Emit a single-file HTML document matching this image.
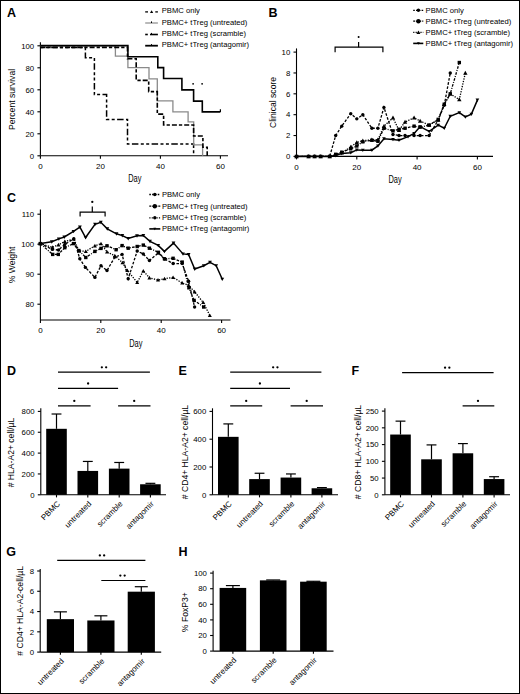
<!DOCTYPE html>
<html><head><meta charset="utf-8"><style>
html,body{margin:0;padding:0;background:#fff;}
svg{display:block;}
text{font-family:"Liberation Sans", sans-serif;fill:#000;}
</style></head><body>
<svg width="520" height="694" viewBox="0 0 520 694">
<rect x="0" y="0" width="520" height="694" fill="#fff"/>
<text x="7.00" y="16.50" font-size="12.5" text-anchor="start" font-weight="bold">A</text>
<line x1="40.40" y1="42.30" x2="40.40" y2="155.80" stroke="#000" stroke-width="1.1"/>
<line x1="37.40" y1="155.80" x2="40.40" y2="155.80" stroke="#000" stroke-width="1.1"/>
<text x="34.20" y="158.55" font-size="7.8" text-anchor="end">0</text>
<line x1="37.40" y1="133.80" x2="40.40" y2="133.80" stroke="#000" stroke-width="1.1"/>
<text x="34.20" y="136.55" font-size="7.8" text-anchor="end">20</text>
<line x1="37.40" y1="111.80" x2="40.40" y2="111.80" stroke="#000" stroke-width="1.1"/>
<text x="34.20" y="114.55" font-size="7.8" text-anchor="end">40</text>
<line x1="37.40" y1="89.80" x2="40.40" y2="89.80" stroke="#000" stroke-width="1.1"/>
<text x="34.20" y="92.55" font-size="7.8" text-anchor="end">60</text>
<line x1="37.40" y1="67.80" x2="40.40" y2="67.80" stroke="#000" stroke-width="1.1"/>
<text x="34.20" y="70.55" font-size="7.8" text-anchor="end">80</text>
<line x1="37.40" y1="45.80" x2="40.40" y2="45.80" stroke="#000" stroke-width="1.1"/>
<text x="34.20" y="48.55" font-size="7.8" text-anchor="end">100</text>
<line x1="40.40" y1="155.80" x2="228.00" y2="155.80" stroke="#000" stroke-width="1.1"/>
<line x1="40.40" y1="155.80" x2="40.40" y2="158.80" stroke="#000" stroke-width="1.1"/>
<text x="40.40" y="168.80" font-size="8.0" text-anchor="middle">0</text>
<line x1="100.40" y1="155.80" x2="100.40" y2="158.80" stroke="#000" stroke-width="1.1"/>
<text x="100.40" y="168.80" font-size="8.0" text-anchor="middle">20</text>
<line x1="160.40" y1="155.80" x2="160.40" y2="158.80" stroke="#000" stroke-width="1.1"/>
<text x="160.40" y="168.80" font-size="8.0" text-anchor="middle">40</text>
<line x1="220.40" y1="155.80" x2="220.40" y2="158.80" stroke="#000" stroke-width="1.1"/>
<text x="220.40" y="168.80" font-size="8.0" text-anchor="middle">60</text>
<text x="0.00" y="0.00" font-size="8.6" text-anchor="middle" transform="translate(15.40,99.50) rotate(-90)">Percent survival</text>
<text x="134.80" y="181.70" font-size="10.2" text-anchor="middle" textLength="13.2" lengthAdjust="spacingAndGlyphs">Day</text>
<path d="M40.40,47.40 L85.40,47.40 L85.40,57.80 L94.40,57.80 L94.40,94.60 L106.60,94.60 L106.60,119.40 L127.50,119.40 L127.50,144.00 L193.60,144.00 L193.60,155.80" fill="none" stroke="#000" stroke-width="1.5" stroke-dasharray="3,2.4,3,2.4,6.5,2.4" stroke-linejoin="miter"/>
<path d="M40.40,45.80 L115.40,45.80 L115.40,56.20 L127.90,56.20 L127.90,67.60 L149.00,67.60 L149.00,78.80 L157.30,78.80 L157.30,100.80 L172.90,100.80 L172.90,111.90 L188.10,111.90 L188.10,121.90 L193.70,121.90 L193.70,144.90 L202.60,144.90 L202.60,155.80" fill="none" stroke="#8a8a8a" stroke-width="1.3" stroke-linejoin="miter"/>
<path d="M40.40,47.40 L127.50,47.40 L127.50,58.80 L136.20,58.80 L136.20,80.40 L148.70,80.40 L148.70,91.60 L157.30,91.60 L157.30,114.10 L163.60,114.10 L163.60,125.00 L193.60,125.00 L193.60,136.00 L202.90,136.00 L202.90,147.20 L207.20,147.20 L207.20,155.80" fill="none" stroke="#000" stroke-width="1.6" stroke-dasharray="5,2,3.3,2" stroke-linejoin="miter"/>
<path d="M40.40,45.60 L127.90,45.60 L127.90,56.80 L157.80,56.80 L157.80,67.60 L163.60,67.60 L163.60,78.50 L181.90,78.50 L181.90,89.90 L193.60,89.90 L193.60,101.10 L202.30,101.10 L202.30,111.90 L220.40,111.90" fill="none" stroke="#000" stroke-width="1.6" stroke-linejoin="miter"/>
<line x1="220.40" y1="111.90" x2="220.40" y2="109.20" stroke="#000" stroke-width="1.2"/>
<circle cx="193.10" cy="83.80" r="0.9" fill="#000"/>
<circle cx="202.10" cy="83.80" r="0.9" fill="#000"/>
<text x="161.70" y="13.40" font-size="7.65" text-anchor="start">PBMC only</text>
<text x="161.70" y="24.50" font-size="7.65" text-anchor="start">PBMC+ tTreg (untreated)</text>
<text x="161.70" y="36.00" font-size="7.65" text-anchor="start">PBMC+ tTreg (scramble)</text>
<text x="161.70" y="47.20" font-size="7.65" text-anchor="start">PBMC+ tTreg (antagomir)</text>
<line x1="145.20" y1="11.90" x2="148.00" y2="11.90" stroke="#000" stroke-width="1.3"/>
<line x1="155.30" y1="11.90" x2="157.90" y2="11.90" stroke="#000" stroke-width="1.3"/>
<path d="M150.0,13.10 L151.6,10.30 L153.2,13.10 Z" fill="#000"/>
<line x1="145.20" y1="23.00" x2="157.90" y2="23.00" stroke="#8a8a8a" stroke-width="1.2"/>
<line x1="151.50" y1="21.40" x2="151.50" y2="23.00" stroke="#000" stroke-width="1.0"/>
<line x1="145.20" y1="34.50" x2="147.80" y2="34.50" stroke="#000" stroke-width="1.6"/>
<line x1="150.00" y1="34.50" x2="157.90" y2="34.50" stroke="#000" stroke-width="1.6"/>
<line x1="151.50" y1="32.90" x2="151.50" y2="34.50" stroke="#000" stroke-width="1.0"/>
<line x1="145.20" y1="45.70" x2="157.90" y2="45.70" stroke="#000" stroke-width="1.8"/>
<line x1="151.50" y1="44.10" x2="151.50" y2="45.70" stroke="#000" stroke-width="1.0"/>
<text x="268.50" y="17.00" font-size="12.5" text-anchor="start" font-weight="bold">B</text>
<line x1="296.50" y1="48.40" x2="296.50" y2="156.40" stroke="#000" stroke-width="1.1"/>
<line x1="293.50" y1="156.40" x2="296.50" y2="156.40" stroke="#000" stroke-width="1.1"/>
<text x="290.30" y="159.15" font-size="7.8" text-anchor="end">0</text>
<line x1="293.50" y1="135.54" x2="296.50" y2="135.54" stroke="#000" stroke-width="1.1"/>
<text x="290.30" y="138.29" font-size="7.8" text-anchor="end">2</text>
<line x1="293.50" y1="114.68" x2="296.50" y2="114.68" stroke="#000" stroke-width="1.1"/>
<text x="290.30" y="117.43" font-size="7.8" text-anchor="end">4</text>
<line x1="293.50" y1="93.82" x2="296.50" y2="93.82" stroke="#000" stroke-width="1.1"/>
<text x="290.30" y="96.57" font-size="7.8" text-anchor="end">6</text>
<line x1="293.50" y1="72.96" x2="296.50" y2="72.96" stroke="#000" stroke-width="1.1"/>
<text x="290.30" y="75.71" font-size="7.8" text-anchor="end">8</text>
<line x1="293.50" y1="52.10" x2="296.50" y2="52.10" stroke="#000" stroke-width="1.1"/>
<text x="290.30" y="54.85" font-size="7.8" text-anchor="end">10</text>
<line x1="296.50" y1="156.40" x2="493.00" y2="156.40" stroke="#000" stroke-width="1.1"/>
<line x1="296.50" y1="156.40" x2="296.50" y2="159.40" stroke="#000" stroke-width="1.1"/>
<text x="296.50" y="170.20" font-size="8.0" text-anchor="middle">0</text>
<line x1="356.80" y1="156.40" x2="356.80" y2="159.40" stroke="#000" stroke-width="1.1"/>
<text x="356.80" y="170.20" font-size="8.0" text-anchor="middle">20</text>
<line x1="417.10" y1="156.40" x2="417.10" y2="159.40" stroke="#000" stroke-width="1.1"/>
<text x="417.10" y="170.20" font-size="8.0" text-anchor="middle">40</text>
<line x1="477.40" y1="156.40" x2="477.40" y2="159.40" stroke="#000" stroke-width="1.1"/>
<text x="477.40" y="170.20" font-size="8.0" text-anchor="middle">60</text>
<text x="0.00" y="0.00" font-size="8.6" text-anchor="middle" transform="translate(276.20,102.50) rotate(-90)">Clinical score</text>
<text x="395.00" y="183.20" font-size="10.2" text-anchor="middle" textLength="13.2" lengthAdjust="spacingAndGlyphs">Day</text>
<path d="M296.50,156.40 L308.56,156.40 L314.59,156.40 L320.62,156.40 L329.67,156.40 L335.69,155.57 L341.73,153.38 L350.77,152.75 L356.80,149.93 L362.83,150.14 L371.88,150.14 L377.90,145.97 L383.94,138.67 L392.98,139.50 L399.01,140.23 L408.06,136.58 L414.09,133.45 L420.12,126.67 L429.16,131.37 L438.21,125.11 L444.24,128.24 L450.26,116.24 L459.31,112.59 L465.34,116.97 L471.37,114.16 L477.40,100.08" fill="none" stroke="#000" stroke-width="1.5" stroke-linejoin="miter"/>
<path d="M296.50,158.22 L298.32,154.94 L294.68,154.94 Z" fill="#000"/>
<path d="M308.56,158.22 L310.38,154.94 L306.74,154.94 Z" fill="#000"/>
<path d="M314.59,158.22 L316.41,154.94 L312.77,154.94 Z" fill="#000"/>
<path d="M320.62,158.22 L322.44,154.94 L318.80,154.94 Z" fill="#000"/>
<path d="M329.67,158.22 L331.49,154.94 L327.85,154.94 Z" fill="#000"/>
<path d="M335.69,157.39 L337.51,154.11 L333.88,154.11 Z" fill="#000"/>
<path d="M341.73,155.20 L343.55,151.92 L339.91,151.92 Z" fill="#000"/>
<path d="M350.77,154.57 L352.59,151.29 L348.95,151.29 Z" fill="#000"/>
<path d="M356.80,151.75 L358.62,148.48 L354.98,148.48 Z" fill="#000"/>
<path d="M362.83,151.96 L364.65,148.69 L361.01,148.69 Z" fill="#000"/>
<path d="M371.88,151.96 L373.69,148.69 L370.06,148.69 Z" fill="#000"/>
<path d="M377.90,147.79 L379.72,144.51 L376.08,144.51 Z" fill="#000"/>
<path d="M383.94,140.49 L385.75,137.21 L382.12,137.21 Z" fill="#000"/>
<path d="M392.98,141.32 L394.80,138.05 L391.16,138.05 Z" fill="#000"/>
<path d="M399.01,142.05 L400.83,138.78 L397.19,138.78 Z" fill="#000"/>
<path d="M408.06,138.40 L409.88,135.13 L406.24,135.13 Z" fill="#000"/>
<path d="M414.09,135.27 L415.91,132.00 L412.27,132.00 Z" fill="#000"/>
<path d="M420.12,128.49 L421.94,125.22 L418.30,125.22 Z" fill="#000"/>
<path d="M429.16,133.19 L430.98,129.91 L427.34,129.91 Z" fill="#000"/>
<path d="M438.21,126.93 L440.03,123.65 L436.39,123.65 Z" fill="#000"/>
<path d="M444.24,130.06 L446.06,126.78 L442.42,126.78 Z" fill="#000"/>
<path d="M450.26,118.06 L452.08,114.79 L448.44,114.79 Z" fill="#000"/>
<path d="M459.31,114.41 L461.13,111.14 L457.49,111.14 Z" fill="#000"/>
<path d="M465.34,118.79 L467.16,115.52 L463.52,115.52 Z" fill="#000"/>
<path d="M471.37,115.98 L473.19,112.70 L469.55,112.70 Z" fill="#000"/>
<path d="M477.40,101.90 L479.22,98.62 L475.58,98.62 Z" fill="#000"/>
<path d="M296.50,156.40 L308.56,156.40 L314.59,156.40 L320.62,156.40 L329.67,156.40 L335.69,155.36 L341.73,152.75 L350.77,147.01 L356.80,142.42 L362.83,140.75 L371.88,139.71 L377.90,139.71 L383.94,126.15 L392.98,117.81 L399.01,130.33 L405.04,121.98 L414.09,117.81 L420.12,120.94 L429.16,125.11 L438.21,119.90 L444.24,104.25 L450.26,93.82 L459.31,99.56 L465.34,72.96" fill="none" stroke="#000" stroke-width="1.3" stroke-dasharray="1.3,1.3" stroke-linejoin="miter"/>
<path d="M296.50,154.20 L298.70,158.16 L294.30,158.16 Z" fill="#000"/>
<path d="M308.56,154.20 L310.76,158.16 L306.36,158.16 Z" fill="#000"/>
<path d="M314.59,154.20 L316.79,158.16 L312.39,158.16 Z" fill="#000"/>
<path d="M320.62,154.20 L322.82,158.16 L318.42,158.16 Z" fill="#000"/>
<path d="M329.67,154.20 L331.87,158.16 L327.47,158.16 Z" fill="#000"/>
<path d="M335.69,153.16 L337.89,157.12 L333.50,157.12 Z" fill="#000"/>
<path d="M341.73,150.55 L343.93,154.51 L339.53,154.51 Z" fill="#000"/>
<path d="M350.77,144.81 L352.97,148.77 L348.57,148.77 Z" fill="#000"/>
<path d="M356.80,140.22 L359.00,144.18 L354.60,144.18 Z" fill="#000"/>
<path d="M362.83,138.56 L365.03,142.51 L360.63,142.51 Z" fill="#000"/>
<path d="M371.88,137.51 L374.07,141.47 L369.68,141.47 Z" fill="#000"/>
<path d="M377.90,137.51 L380.10,141.47 L375.70,141.47 Z" fill="#000"/>
<path d="M383.94,123.95 L386.13,127.91 L381.74,127.91 Z" fill="#000"/>
<path d="M392.98,115.61 L395.18,119.57 L390.78,119.57 Z" fill="#000"/>
<path d="M399.01,128.13 L401.21,132.09 L396.81,132.09 Z" fill="#000"/>
<path d="M405.04,119.78 L407.24,123.74 L402.84,123.74 Z" fill="#000"/>
<path d="M414.09,115.61 L416.29,119.57 L411.89,119.57 Z" fill="#000"/>
<path d="M420.12,118.74 L422.31,122.70 L417.92,122.70 Z" fill="#000"/>
<path d="M429.16,122.91 L431.36,126.87 L426.96,126.87 Z" fill="#000"/>
<path d="M438.21,117.70 L440.41,121.66 L436.01,121.66 Z" fill="#000"/>
<path d="M444.24,102.05 L446.44,106.01 L442.04,106.01 Z" fill="#000"/>
<path d="M450.26,91.62 L452.46,95.58 L448.06,95.58 Z" fill="#000"/>
<path d="M459.31,97.36 L461.51,101.32 L457.11,101.32 Z" fill="#000"/>
<path d="M465.34,70.76 L467.54,74.72 L463.14,74.72 Z" fill="#000"/>
<path d="M296.50,156.40 L308.56,156.40 L314.59,156.40 L320.62,156.40 L329.67,156.40 L335.69,154.31 L341.73,152.23 L350.77,148.79 L356.80,145.97 L362.83,141.80 L371.88,140.23 L377.90,141.28 L383.94,128.24 L392.98,130.85 L399.01,129.28 L405.04,128.24 L414.09,126.15 L420.12,127.20 L429.16,125.11 L438.21,119.37 L444.24,104.25 L450.26,93.82 L459.31,62.53" fill="none" stroke="#000" stroke-width="1.3" stroke-dasharray="2.6,1.3,1,1.3" stroke-linejoin="miter"/>
<rect x="294.80" y="154.70" width="3.40" height="3.40" fill="#000"/>
<rect x="306.86" y="154.70" width="3.40" height="3.40" fill="#000"/>
<rect x="312.89" y="154.70" width="3.40" height="3.40" fill="#000"/>
<rect x="318.92" y="154.70" width="3.40" height="3.40" fill="#000"/>
<rect x="327.97" y="154.70" width="3.40" height="3.40" fill="#000"/>
<rect x="334.00" y="152.61" width="3.40" height="3.40" fill="#000"/>
<rect x="340.03" y="150.53" width="3.40" height="3.40" fill="#000"/>
<rect x="349.07" y="147.09" width="3.40" height="3.40" fill="#000"/>
<rect x="355.10" y="144.27" width="3.40" height="3.40" fill="#000"/>
<rect x="361.13" y="140.10" width="3.40" height="3.40" fill="#000"/>
<rect x="370.18" y="138.53" width="3.40" height="3.40" fill="#000"/>
<rect x="376.20" y="139.58" width="3.40" height="3.40" fill="#000"/>
<rect x="382.24" y="126.54" width="3.40" height="3.40" fill="#000"/>
<rect x="391.28" y="129.15" width="3.40" height="3.40" fill="#000"/>
<rect x="397.31" y="127.58" width="3.40" height="3.40" fill="#000"/>
<rect x="403.34" y="126.54" width="3.40" height="3.40" fill="#000"/>
<rect x="412.39" y="124.45" width="3.40" height="3.40" fill="#000"/>
<rect x="418.42" y="125.50" width="3.40" height="3.40" fill="#000"/>
<rect x="427.46" y="123.41" width="3.40" height="3.40" fill="#000"/>
<rect x="436.51" y="117.67" width="3.40" height="3.40" fill="#000"/>
<rect x="442.54" y="102.55" width="3.40" height="3.40" fill="#000"/>
<rect x="448.56" y="92.12" width="3.40" height="3.40" fill="#000"/>
<rect x="457.61" y="60.83" width="3.40" height="3.40" fill="#000"/>
<path d="M296.50,156.40 L308.56,156.40 L314.59,156.40 L320.62,156.40 L329.67,156.40 L335.69,135.54 L341.73,126.15 L350.77,113.64 L356.80,118.85 L362.83,114.68 L371.88,128.24 L377.90,128.24 L383.94,107.38 L392.98,134.50 L399.01,135.54 L405.04,135.54 L414.09,135.54 L420.12,135.54 L429.16,135.54 L438.21,119.90 L444.24,105.29 L450.26,72.96" fill="none" stroke="#000" stroke-width="1.3" stroke-dasharray="2.6,1.6" stroke-linejoin="miter"/>
<circle cx="296.50" cy="156.40" r="1.70" fill="#000"/>
<circle cx="308.56" cy="156.40" r="1.70" fill="#000"/>
<circle cx="314.59" cy="156.40" r="1.70" fill="#000"/>
<circle cx="320.62" cy="156.40" r="1.70" fill="#000"/>
<circle cx="329.67" cy="156.40" r="1.70" fill="#000"/>
<circle cx="335.69" cy="135.54" r="1.70" fill="#000"/>
<circle cx="341.73" cy="126.15" r="1.70" fill="#000"/>
<circle cx="350.77" cy="113.64" r="1.70" fill="#000"/>
<circle cx="356.80" cy="118.85" r="1.70" fill="#000"/>
<circle cx="362.83" cy="114.68" r="1.70" fill="#000"/>
<circle cx="371.88" cy="128.24" r="1.70" fill="#000"/>
<circle cx="377.90" cy="128.24" r="1.70" fill="#000"/>
<circle cx="383.94" cy="107.38" r="1.70" fill="#000"/>
<circle cx="392.98" cy="134.50" r="1.70" fill="#000"/>
<circle cx="399.01" cy="135.54" r="1.70" fill="#000"/>
<circle cx="405.04" cy="135.54" r="1.70" fill="#000"/>
<circle cx="414.09" cy="135.54" r="1.70" fill="#000"/>
<circle cx="420.12" cy="135.54" r="1.70" fill="#000"/>
<circle cx="429.16" cy="135.54" r="1.70" fill="#000"/>
<circle cx="438.21" cy="119.90" r="1.70" fill="#000"/>
<circle cx="444.24" cy="105.29" r="1.70" fill="#000"/>
<circle cx="450.26" cy="72.96" r="1.70" fill="#000"/>
<path d="M335.10,52.20 L335.10,47.20 L382.90,47.20 L382.90,52.20" fill="none" stroke="#000" stroke-width="1.2" stroke-linejoin="miter"/>
<line x1="358.60" y1="47.20" x2="358.60" y2="42.10" stroke="#000" stroke-width="1.2"/>
<circle cx="358.60" cy="36.90" r="1.0" fill="#000"/>
<text x="425.60" y="12.80" font-size="7.65" text-anchor="start">PBMC only</text>
<text x="425.60" y="23.70" font-size="7.65" text-anchor="start">PBMC+ tTreg (untreated)</text>
<text x="425.60" y="34.90" font-size="7.65" text-anchor="start">PBMC+ tTreg (scramble)</text>
<text x="425.60" y="45.90" font-size="7.65" text-anchor="start">PBMC+ tTreg (antagomir)</text>
<path d="M413.20,10.30 L423.30,10.30" fill="none" stroke="#000" stroke-width="1.3" stroke-dasharray="1.6,1.2" stroke-linejoin="miter"/>
<circle cx="418.40" cy="10.30" r="1.70" fill="#000"/>
<path d="M413.20,21.20 L423.30,21.20" fill="none" stroke="#000" stroke-width="1.3" stroke-dasharray="2,1" stroke-linejoin="miter"/>
<circle cx="418.40" cy="21.20" r="2.21" fill="#000"/>
<path d="M413.20,32.40 L423.30,32.40" fill="none" stroke="#000" stroke-width="1.3" stroke-dasharray="1.2,1.2" stroke-linejoin="miter"/>
<path d="M418.40,30.40 L420.40,34.00 L416.40,34.00 Z" fill="#000"/>
<line x1="413.20" y1="43.40" x2="423.30" y2="43.40" stroke="#000" stroke-width="1.6"/>
<path d="M418.40,44.80 L419.80,42.28 L417.00,42.28 Z" fill="#000"/>
<text x="7.00" y="374.90" font-size="12.5" text-anchor="start" font-weight="bold">D</text>
<rect x="46.20" y="428.81" width="20.60" height="65.99" fill="#000"/>
<line x1="56.50" y1="428.81" x2="56.50" y2="414.01" stroke="#000" stroke-width="1.2"/>
<line x1="51.56" y1="414.01" x2="61.44" y2="414.01" stroke="#000" stroke-width="1.2"/>
<line x1="56.50" y1="494.80" x2="56.50" y2="497.40" stroke="#000" stroke-width="1.1"/>
<text x="0.00" y="0.00" font-size="8.0" text-anchor="end" transform="translate(60.50,504.30) rotate(-45)">PBMC</text>
<rect x="77.50" y="470.93" width="20.60" height="23.87" fill="#000"/>
<line x1="87.80" y1="470.93" x2="87.80" y2="461.44" stroke="#000" stroke-width="1.2"/>
<line x1="82.86" y1="461.44" x2="92.74" y2="461.44" stroke="#000" stroke-width="1.2"/>
<line x1="87.80" y1="494.80" x2="87.80" y2="497.40" stroke="#000" stroke-width="1.1"/>
<text x="0.00" y="0.00" font-size="8.0" text-anchor="end" transform="translate(91.80,504.30) rotate(-45)">untreated</text>
<rect x="108.90" y="468.63" width="20.60" height="26.17" fill="#000"/>
<line x1="119.20" y1="468.63" x2="119.20" y2="462.48" stroke="#000" stroke-width="1.2"/>
<line x1="114.26" y1="462.48" x2="124.14" y2="462.48" stroke="#000" stroke-width="1.2"/>
<line x1="119.20" y1="494.80" x2="119.20" y2="497.40" stroke="#000" stroke-width="1.1"/>
<text x="0.00" y="0.00" font-size="8.0" text-anchor="end" transform="translate(123.20,504.30) rotate(-45)">scramble</text>
<rect x="140.10" y="484.27" width="20.60" height="10.53" fill="#000"/>
<line x1="150.40" y1="484.27" x2="150.40" y2="483.33" stroke="#000" stroke-width="1.2"/>
<line x1="145.46" y1="483.33" x2="155.34" y2="483.33" stroke="#000" stroke-width="1.2"/>
<line x1="150.40" y1="494.80" x2="150.40" y2="497.40" stroke="#000" stroke-width="1.1"/>
<text x="0.00" y="0.00" font-size="8.0" text-anchor="end" transform="translate(154.40,504.30) rotate(-45)">antagomir</text>
<line x1="40.80" y1="408.30" x2="40.80" y2="494.80" stroke="#000" stroke-width="1.1"/>
<line x1="37.80" y1="494.80" x2="40.80" y2="494.80" stroke="#000" stroke-width="1.1"/>
<text x="34.60" y="497.55" font-size="7.8" text-anchor="end">0</text>
<line x1="37.80" y1="473.95" x2="40.80" y2="473.95" stroke="#000" stroke-width="1.1"/>
<text x="34.60" y="476.70" font-size="7.8" text-anchor="end">200</text>
<line x1="37.80" y1="453.10" x2="40.80" y2="453.10" stroke="#000" stroke-width="1.1"/>
<text x="34.60" y="455.85" font-size="7.8" text-anchor="end">400</text>
<line x1="37.80" y1="432.25" x2="40.80" y2="432.25" stroke="#000" stroke-width="1.1"/>
<text x="34.60" y="435.00" font-size="7.8" text-anchor="end">600</text>
<line x1="37.80" y1="411.40" x2="40.80" y2="411.40" stroke="#000" stroke-width="1.1"/>
<text x="34.60" y="414.15" font-size="7.8" text-anchor="end">800</text>
<line x1="40.80" y1="494.80" x2="166.00" y2="494.80" stroke="#000" stroke-width="1.1"/>
<text x="0.00" y="0.00" font-size="8.6" text-anchor="middle" transform="translate(14.40,452.50) rotate(-90)"># HLA-A2+ cell/µL</text>
<line x1="58.00" y1="372.20" x2="149.90" y2="372.20" stroke="#000" stroke-width="1.2"/>
<circle cx="101.85" cy="367.30" r="1.15" fill="#000"/>
<circle cx="106.15" cy="367.30" r="1.15" fill="#000"/>
<line x1="58.00" y1="388.40" x2="118.10" y2="388.40" stroke="#000" stroke-width="1.2"/>
<circle cx="88.10" cy="383.50" r="1.15" fill="#000"/>
<line x1="58.00" y1="405.80" x2="90.60" y2="405.80" stroke="#000" stroke-width="1.2"/>
<circle cx="74.30" cy="400.90" r="1.15" fill="#000"/>
<line x1="118.10" y1="405.80" x2="150.50" y2="405.80" stroke="#000" stroke-width="1.2"/>
<circle cx="134.20" cy="400.90" r="1.15" fill="#000"/>
<text x="178.50" y="374.90" font-size="12.5" text-anchor="start" font-weight="bold">E</text>
<rect x="218.00" y="436.84" width="20.60" height="57.96" fill="#000"/>
<line x1="228.30" y1="436.84" x2="228.30" y2="423.91" stroke="#000" stroke-width="1.2"/>
<line x1="223.36" y1="423.91" x2="233.24" y2="423.91" stroke="#000" stroke-width="1.2"/>
<line x1="228.30" y1="494.80" x2="228.30" y2="497.40" stroke="#000" stroke-width="1.1"/>
<text x="0.00" y="0.00" font-size="8.0" text-anchor="end" transform="translate(232.30,504.30) rotate(-45)">PBMC</text>
<rect x="249.20" y="479.09" width="20.60" height="15.71" fill="#000"/>
<line x1="259.50" y1="479.09" x2="259.50" y2="473.25" stroke="#000" stroke-width="1.2"/>
<line x1="254.56" y1="473.25" x2="264.44" y2="473.25" stroke="#000" stroke-width="1.2"/>
<line x1="259.50" y1="494.80" x2="259.50" y2="497.40" stroke="#000" stroke-width="1.1"/>
<text x="0.00" y="0.00" font-size="8.0" text-anchor="end" transform="translate(263.50,504.30) rotate(-45)">untreated</text>
<rect x="280.60" y="477.56" width="20.60" height="17.24" fill="#000"/>
<line x1="290.90" y1="477.56" x2="290.90" y2="473.95" stroke="#000" stroke-width="1.2"/>
<line x1="285.96" y1="473.95" x2="295.84" y2="473.95" stroke="#000" stroke-width="1.2"/>
<line x1="290.90" y1="494.80" x2="290.90" y2="497.40" stroke="#000" stroke-width="1.1"/>
<text x="0.00" y="0.00" font-size="8.0" text-anchor="end" transform="translate(294.90,504.30) rotate(-45)">scramble</text>
<rect x="311.60" y="488.27" width="20.60" height="6.53" fill="#000"/>
<line x1="321.90" y1="488.27" x2="321.90" y2="487.57" stroke="#000" stroke-width="1.2"/>
<line x1="316.96" y1="487.57" x2="326.84" y2="487.57" stroke="#000" stroke-width="1.2"/>
<line x1="321.90" y1="494.80" x2="321.90" y2="497.40" stroke="#000" stroke-width="1.1"/>
<text x="0.00" y="0.00" font-size="8.0" text-anchor="end" transform="translate(325.90,504.30) rotate(-45)">antagomir</text>
<line x1="212.50" y1="408.30" x2="212.50" y2="494.80" stroke="#000" stroke-width="1.1"/>
<line x1="209.50" y1="494.80" x2="212.50" y2="494.80" stroke="#000" stroke-width="1.1"/>
<text x="206.30" y="497.55" font-size="7.8" text-anchor="end">0</text>
<line x1="209.50" y1="467.00" x2="212.50" y2="467.00" stroke="#000" stroke-width="1.1"/>
<text x="206.30" y="469.75" font-size="7.8" text-anchor="end">200</text>
<line x1="209.50" y1="439.20" x2="212.50" y2="439.20" stroke="#000" stroke-width="1.1"/>
<text x="206.30" y="441.95" font-size="7.8" text-anchor="end">400</text>
<line x1="209.50" y1="411.40" x2="212.50" y2="411.40" stroke="#000" stroke-width="1.1"/>
<text x="206.30" y="414.15" font-size="7.8" text-anchor="end">600</text>
<line x1="212.50" y1="494.80" x2="338.00" y2="494.80" stroke="#000" stroke-width="1.1"/>
<text x="0.00" y="0.00" font-size="8.6" text-anchor="middle" transform="translate(188.00,452.00) rotate(-90)"># CD4+ HLA-A2+ cell/µL</text>
<line x1="230.20" y1="372.20" x2="321.40" y2="372.20" stroke="#000" stroke-width="1.2"/>
<circle cx="273.15" cy="367.30" r="1.15" fill="#000"/>
<circle cx="277.45" cy="367.30" r="1.15" fill="#000"/>
<line x1="230.20" y1="388.40" x2="290.00" y2="388.40" stroke="#000" stroke-width="1.2"/>
<circle cx="259.90" cy="383.50" r="1.15" fill="#000"/>
<line x1="230.20" y1="405.80" x2="262.20" y2="405.80" stroke="#000" stroke-width="1.2"/>
<circle cx="246.20" cy="400.90" r="1.15" fill="#000"/>
<line x1="290.60" y1="405.80" x2="323.00" y2="405.80" stroke="#000" stroke-width="1.2"/>
<circle cx="306.70" cy="400.90" r="1.15" fill="#000"/>
<text x="351.60" y="374.90" font-size="12.5" text-anchor="start" font-weight="bold">F</text>
<rect x="390.20" y="434.54" width="20.60" height="60.26" fill="#000"/>
<line x1="400.50" y1="434.54" x2="400.50" y2="421.14" stroke="#000" stroke-width="1.2"/>
<line x1="395.56" y1="421.14" x2="405.44" y2="421.14" stroke="#000" stroke-width="1.2"/>
<line x1="400.50" y1="494.80" x2="400.50" y2="497.40" stroke="#000" stroke-width="1.1"/>
<text x="0.00" y="0.00" font-size="8.0" text-anchor="end" transform="translate(404.50,504.30) rotate(-45)">PBMC</text>
<rect x="421.20" y="459.31" width="20.60" height="35.49" fill="#000"/>
<line x1="431.50" y1="459.31" x2="431.50" y2="444.91" stroke="#000" stroke-width="1.2"/>
<line x1="426.56" y1="444.91" x2="436.44" y2="444.91" stroke="#000" stroke-width="1.2"/>
<line x1="431.50" y1="494.80" x2="431.50" y2="497.40" stroke="#000" stroke-width="1.1"/>
<text x="0.00" y="0.00" font-size="8.0" text-anchor="end" transform="translate(435.50,504.30) rotate(-45)">untreated</text>
<rect x="452.60" y="453.28" width="20.60" height="41.52" fill="#000"/>
<line x1="462.90" y1="453.28" x2="462.90" y2="443.58" stroke="#000" stroke-width="1.2"/>
<line x1="457.96" y1="443.58" x2="467.84" y2="443.58" stroke="#000" stroke-width="1.2"/>
<line x1="462.90" y1="494.80" x2="462.90" y2="497.40" stroke="#000" stroke-width="1.1"/>
<text x="0.00" y="0.00" font-size="8.0" text-anchor="end" transform="translate(466.90,504.30) rotate(-45)">scramble</text>
<rect x="483.80" y="479.06" width="20.60" height="15.74" fill="#000"/>
<line x1="494.10" y1="479.06" x2="494.10" y2="476.72" stroke="#000" stroke-width="1.2"/>
<line x1="489.16" y1="476.72" x2="499.04" y2="476.72" stroke="#000" stroke-width="1.2"/>
<line x1="494.10" y1="494.80" x2="494.10" y2="497.40" stroke="#000" stroke-width="1.1"/>
<text x="0.00" y="0.00" font-size="8.0" text-anchor="end" transform="translate(498.10,504.30) rotate(-45)">antagomir</text>
<line x1="384.90" y1="408.30" x2="384.90" y2="494.80" stroke="#000" stroke-width="1.1"/>
<line x1="381.90" y1="494.80" x2="384.90" y2="494.80" stroke="#000" stroke-width="1.1"/>
<text x="378.70" y="497.55" font-size="7.8" text-anchor="end">0</text>
<line x1="381.90" y1="478.06" x2="384.90" y2="478.06" stroke="#000" stroke-width="1.1"/>
<text x="378.70" y="480.81" font-size="7.8" text-anchor="end">50</text>
<line x1="381.90" y1="461.32" x2="384.90" y2="461.32" stroke="#000" stroke-width="1.1"/>
<text x="378.70" y="464.07" font-size="7.8" text-anchor="end">100</text>
<line x1="381.90" y1="444.58" x2="384.90" y2="444.58" stroke="#000" stroke-width="1.1"/>
<text x="378.70" y="447.33" font-size="7.8" text-anchor="end">150</text>
<line x1="381.90" y1="427.84" x2="384.90" y2="427.84" stroke="#000" stroke-width="1.1"/>
<text x="378.70" y="430.59" font-size="7.8" text-anchor="end">200</text>
<line x1="381.90" y1="411.10" x2="384.90" y2="411.10" stroke="#000" stroke-width="1.1"/>
<text x="378.70" y="413.85" font-size="7.8" text-anchor="end">250</text>
<line x1="384.90" y1="494.80" x2="510.00" y2="494.80" stroke="#000" stroke-width="1.1"/>
<text x="0.00" y="0.00" font-size="8.6" text-anchor="middle" transform="translate(360.60,452.00) rotate(-90)"># CD8+ HLA-A2+ cell/µL</text>
<line x1="402.10" y1="372.60" x2="493.60" y2="372.60" stroke="#000" stroke-width="1.2"/>
<circle cx="445.05" cy="367.70" r="1.15" fill="#000"/>
<circle cx="449.35" cy="367.70" r="1.15" fill="#000"/>
<line x1="462.60" y1="405.80" x2="494.30" y2="405.80" stroke="#000" stroke-width="1.2"/>
<circle cx="478.00" cy="400.90" r="1.15" fill="#000"/>
<text x="6.20" y="555.70" font-size="12.5" text-anchor="start" font-weight="bold">G</text>
<rect x="46.80" y="619.15" width="27.20" height="32.95" fill="#000"/>
<line x1="60.40" y1="619.15" x2="60.40" y2="611.85" stroke="#000" stroke-width="1.2"/>
<line x1="53.90" y1="611.85" x2="66.90" y2="611.85" stroke="#000" stroke-width="1.2"/>
<line x1="60.40" y1="652.10" x2="60.40" y2="654.70" stroke="#000" stroke-width="1.1"/>
<text x="0.00" y="0.00" font-size="8.0" text-anchor="end" transform="translate(64.40,661.60) rotate(-45)">untreated</text>
<rect x="87.30" y="620.47" width="27.20" height="31.63" fill="#000"/>
<line x1="100.90" y1="620.47" x2="100.90" y2="615.81" stroke="#000" stroke-width="1.2"/>
<line x1="94.40" y1="615.81" x2="107.40" y2="615.81" stroke="#000" stroke-width="1.2"/>
<line x1="100.90" y1="652.10" x2="100.90" y2="654.70" stroke="#000" stroke-width="1.1"/>
<text x="0.00" y="0.00" font-size="8.0" text-anchor="end" transform="translate(104.90,661.60) rotate(-45)">scramble</text>
<rect x="127.70" y="591.68" width="27.20" height="60.42" fill="#000"/>
<line x1="141.30" y1="591.68" x2="141.30" y2="586.71" stroke="#000" stroke-width="1.2"/>
<line x1="134.80" y1="586.71" x2="147.80" y2="586.71" stroke="#000" stroke-width="1.2"/>
<line x1="141.30" y1="652.10" x2="141.30" y2="654.70" stroke="#000" stroke-width="1.1"/>
<text x="0.00" y="0.00" font-size="8.0" text-anchor="end" transform="translate(145.30,661.60) rotate(-45)">antagomir</text>
<line x1="40.20" y1="569.00" x2="40.20" y2="652.10" stroke="#000" stroke-width="1.1"/>
<line x1="37.20" y1="652.10" x2="40.20" y2="652.10" stroke="#000" stroke-width="1.1"/>
<text x="34.00" y="654.85" font-size="7.8" text-anchor="end">0</text>
<line x1="37.20" y1="631.83" x2="40.20" y2="631.83" stroke="#000" stroke-width="1.1"/>
<text x="34.00" y="634.58" font-size="7.8" text-anchor="end">2</text>
<line x1="37.20" y1="611.55" x2="40.20" y2="611.55" stroke="#000" stroke-width="1.1"/>
<text x="34.00" y="614.30" font-size="7.8" text-anchor="end">4</text>
<line x1="37.20" y1="591.27" x2="40.20" y2="591.27" stroke="#000" stroke-width="1.1"/>
<text x="34.00" y="594.02" font-size="7.8" text-anchor="end">6</text>
<line x1="37.20" y1="571.00" x2="40.20" y2="571.00" stroke="#000" stroke-width="1.1"/>
<text x="34.00" y="573.75" font-size="7.8" text-anchor="end">8</text>
<line x1="40.20" y1="652.10" x2="161.20" y2="652.10" stroke="#000" stroke-width="1.1"/>
<text x="0.00" y="0.00" font-size="8.6" text-anchor="middle" transform="translate(22.80,610.80) rotate(-90)"># CD4+ HLA-A2-cell/µL</text>
<line x1="57.20" y1="560.30" x2="145.40" y2="560.30" stroke="#000" stroke-width="1.2"/>
<circle cx="99.85" cy="555.40" r="1.15" fill="#000"/>
<circle cx="104.15" cy="555.40" r="1.15" fill="#000"/>
<line x1="101.30" y1="580.50" x2="145.40" y2="580.50" stroke="#000" stroke-width="1.2"/>
<circle cx="120.35" cy="575.60" r="1.15" fill="#000"/>
<circle cx="124.65" cy="575.60" r="1.15" fill="#000"/>
<text x="178.50" y="555.70" font-size="12.5" text-anchor="start" font-weight="bold">H</text>
<rect x="219.60" y="587.92" width="26.60" height="63.18" fill="#000"/>
<line x1="232.90" y1="587.92" x2="232.90" y2="585.58" stroke="#000" stroke-width="1.2"/>
<line x1="225.90" y1="585.58" x2="239.90" y2="585.58" stroke="#000" stroke-width="1.2"/>
<line x1="232.90" y1="651.10" x2="232.90" y2="653.70" stroke="#000" stroke-width="1.1"/>
<text x="0.00" y="0.00" font-size="8.0" text-anchor="end" transform="translate(236.90,660.60) rotate(-45)">untreated</text>
<rect x="259.90" y="580.35" width="26.60" height="70.75" fill="#000"/>
<line x1="273.20" y1="580.35" x2="273.20" y2="579.96" stroke="#000" stroke-width="1.2"/>
<line x1="266.20" y1="579.96" x2="280.20" y2="579.96" stroke="#000" stroke-width="1.2"/>
<line x1="273.20" y1="651.10" x2="273.20" y2="653.70" stroke="#000" stroke-width="1.1"/>
<text x="0.00" y="0.00" font-size="8.0" text-anchor="end" transform="translate(277.20,660.60) rotate(-45)">scramble</text>
<rect x="300.10" y="581.68" width="26.60" height="69.42" fill="#000"/>
<line x1="313.40" y1="581.68" x2="313.40" y2="581.29" stroke="#000" stroke-width="1.2"/>
<line x1="306.40" y1="581.29" x2="320.40" y2="581.29" stroke="#000" stroke-width="1.2"/>
<line x1="313.40" y1="651.10" x2="313.40" y2="653.70" stroke="#000" stroke-width="1.1"/>
<text x="0.00" y="0.00" font-size="8.0" text-anchor="end" transform="translate(317.40,660.60) rotate(-45)">antagomir</text>
<line x1="213.10" y1="570.80" x2="213.10" y2="651.10" stroke="#000" stroke-width="1.1"/>
<line x1="210.10" y1="651.10" x2="213.10" y2="651.10" stroke="#000" stroke-width="1.1"/>
<text x="206.90" y="653.85" font-size="7.8" text-anchor="end">0</text>
<line x1="210.10" y1="635.50" x2="213.10" y2="635.50" stroke="#000" stroke-width="1.1"/>
<text x="206.90" y="638.25" font-size="7.8" text-anchor="end">20</text>
<line x1="210.10" y1="619.90" x2="213.10" y2="619.90" stroke="#000" stroke-width="1.1"/>
<text x="206.90" y="622.65" font-size="7.8" text-anchor="end">40</text>
<line x1="210.10" y1="604.30" x2="213.10" y2="604.30" stroke="#000" stroke-width="1.1"/>
<text x="206.90" y="607.05" font-size="7.8" text-anchor="end">60</text>
<line x1="210.10" y1="588.70" x2="213.10" y2="588.70" stroke="#000" stroke-width="1.1"/>
<text x="206.90" y="591.45" font-size="7.8" text-anchor="end">80</text>
<line x1="210.10" y1="573.10" x2="213.10" y2="573.10" stroke="#000" stroke-width="1.1"/>
<text x="206.90" y="575.85" font-size="7.8" text-anchor="end">100</text>
<line x1="213.10" y1="651.10" x2="333.50" y2="651.10" stroke="#000" stroke-width="1.1"/>
<text x="0.00" y="0.00" font-size="8.6" text-anchor="middle" transform="translate(188.30,612.20) rotate(-90)">% FoxP3+</text>
<text x="7.00" y="202.20" font-size="12.5" text-anchor="start" font-weight="bold">C</text>
<line x1="40.40" y1="209.60" x2="40.40" y2="320.00" stroke="#000" stroke-width="1.1"/>
<line x1="37.40" y1="304.20" x2="40.40" y2="304.20" stroke="#000" stroke-width="1.1"/>
<text x="34.20" y="306.95" font-size="7.8" text-anchor="end">80</text>
<line x1="37.40" y1="274.20" x2="40.40" y2="274.20" stroke="#000" stroke-width="1.1"/>
<text x="34.20" y="276.95" font-size="7.8" text-anchor="end">90</text>
<line x1="37.40" y1="244.20" x2="40.40" y2="244.20" stroke="#000" stroke-width="1.1"/>
<text x="34.20" y="246.95" font-size="7.8" text-anchor="end">100</text>
<line x1="37.40" y1="214.20" x2="40.40" y2="214.20" stroke="#000" stroke-width="1.1"/>
<text x="34.20" y="216.95" font-size="7.8" text-anchor="end">110</text>
<line x1="40.40" y1="320.00" x2="230.50" y2="320.00" stroke="#000" stroke-width="1.1"/>
<line x1="40.40" y1="320.00" x2="40.40" y2="323.00" stroke="#000" stroke-width="1.1"/>
<text x="40.40" y="333.00" font-size="8.0" text-anchor="middle">0</text>
<line x1="100.80" y1="320.00" x2="100.80" y2="323.00" stroke="#000" stroke-width="1.1"/>
<text x="100.80" y="333.00" font-size="8.0" text-anchor="middle">20</text>
<line x1="161.20" y1="320.00" x2="161.20" y2="323.00" stroke="#000" stroke-width="1.1"/>
<text x="161.20" y="333.00" font-size="8.0" text-anchor="middle">40</text>
<line x1="221.60" y1="320.00" x2="221.60" y2="323.00" stroke="#000" stroke-width="1.1"/>
<text x="221.60" y="333.00" font-size="8.0" text-anchor="middle">60</text>
<text x="0.00" y="0.00" font-size="8.6" text-anchor="middle" transform="translate(15.40,265.00) rotate(-90)">% Weight</text>
<text x="135.80" y="346.60" font-size="10.2" text-anchor="middle" textLength="13.2" lengthAdjust="spacingAndGlyphs">Day</text>
<path d="M40.60,243.50 L51.80,241.80 L58.80,238.90 L64.30,237.00 L73.50,231.40 L79.90,227.10 L85.60,237.50 L95.00,224.30 L100.80,222.30 L107.30,228.80 L116.50,233.80 L122.30,235.60 L128.20,238.50 L137.00,235.80 L143.30,235.40 L150.00,241.30 L158.20,245.40 L164.40,251.40 L173.50,243.10 L183.00,253.90 L188.60,254.50 L194.70,269.00 L203.80,265.70 L210.00,262.30 L216.20,265.70 L222.30,279.20" fill="none" stroke="#000" stroke-width="1.5" stroke-linejoin="miter"/>
<path d="M40.60,245.39 L42.49,241.99 L38.71,241.99 Z" fill="#000"/>
<path d="M51.80,243.69 L53.69,240.29 L49.91,240.29 Z" fill="#000"/>
<path d="M58.80,240.79 L60.69,237.39 L56.91,237.39 Z" fill="#000"/>
<path d="M64.30,238.89 L66.19,235.49 L62.41,235.49 Z" fill="#000"/>
<path d="M73.50,233.29 L75.39,229.89 L71.61,229.89 Z" fill="#000"/>
<path d="M79.90,228.99 L81.79,225.59 L78.01,225.59 Z" fill="#000"/>
<path d="M85.60,239.39 L87.49,235.99 L83.71,235.99 Z" fill="#000"/>
<path d="M95.00,226.19 L96.89,222.79 L93.11,222.79 Z" fill="#000"/>
<path d="M100.80,224.19 L102.69,220.79 L98.91,220.79 Z" fill="#000"/>
<path d="M107.30,230.69 L109.19,227.29 L105.41,227.29 Z" fill="#000"/>
<path d="M116.50,235.69 L118.39,232.29 L114.61,232.29 Z" fill="#000"/>
<path d="M122.30,237.49 L124.19,234.09 L120.41,234.09 Z" fill="#000"/>
<path d="M128.20,240.39 L130.09,236.99 L126.31,236.99 Z" fill="#000"/>
<path d="M137.00,237.69 L138.89,234.29 L135.11,234.29 Z" fill="#000"/>
<path d="M143.30,237.29 L145.19,233.89 L141.41,233.89 Z" fill="#000"/>
<path d="M150.00,243.19 L151.89,239.79 L148.11,239.79 Z" fill="#000"/>
<path d="M158.20,247.29 L160.09,243.89 L156.31,243.89 Z" fill="#000"/>
<path d="M164.40,253.29 L166.29,249.89 L162.51,249.89 Z" fill="#000"/>
<path d="M173.50,244.99 L175.39,241.59 L171.61,241.59 Z" fill="#000"/>
<path d="M183.00,255.79 L184.89,252.39 L181.11,252.39 Z" fill="#000"/>
<path d="M188.60,256.39 L190.49,252.99 L186.71,252.99 Z" fill="#000"/>
<path d="M194.70,270.89 L196.59,267.49 L192.81,267.49 Z" fill="#000"/>
<path d="M203.80,267.59 L205.69,264.19 L201.91,264.19 Z" fill="#000"/>
<path d="M210.00,264.19 L211.89,260.79 L208.11,260.79 Z" fill="#000"/>
<path d="M216.20,267.59 L218.09,264.19 L214.31,264.19 Z" fill="#000"/>
<path d="M222.30,281.09 L224.19,277.69 L220.41,277.69 Z" fill="#000"/>
<path d="M40.30,243.60 L52.40,247.30 L58.50,244.80 L64.80,241.50 L73.80,239.00 L79.00,250.80 L85.80,251.40 L94.90,245.80 L101.00,243.70 L107.00,251.90 L114.80,255.80 L122.50,262.70 L127.30,270.40 L137.20,282.50 L143.30,270.90 L149.40,277.80 L158.00,280.00 L164.50,278.70 L173.10,277.40 L182.20,283.00 L188.60,285.30 L194.60,291.80 L203.20,302.40 L209.80,315.50" fill="none" stroke="#000" stroke-width="1.3" stroke-dasharray="1.3,1.3" stroke-linejoin="miter"/>
<path d="M40.30,241.60 L42.30,245.20 L38.30,245.20 Z" fill="#000"/>
<path d="M52.40,245.30 L54.40,248.90 L50.40,248.90 Z" fill="#000"/>
<path d="M58.50,242.80 L60.50,246.40 L56.50,246.40 Z" fill="#000"/>
<path d="M64.80,239.50 L66.80,243.10 L62.80,243.10 Z" fill="#000"/>
<path d="M73.80,237.00 L75.80,240.60 L71.80,240.60 Z" fill="#000"/>
<path d="M79.00,248.80 L81.00,252.40 L77.00,252.40 Z" fill="#000"/>
<path d="M85.80,249.40 L87.80,253.00 L83.80,253.00 Z" fill="#000"/>
<path d="M94.90,243.80 L96.90,247.40 L92.90,247.40 Z" fill="#000"/>
<path d="M101.00,241.70 L103.00,245.30 L99.00,245.30 Z" fill="#000"/>
<path d="M107.00,249.90 L109.00,253.50 L105.00,253.50 Z" fill="#000"/>
<path d="M114.80,253.80 L116.80,257.40 L112.80,257.40 Z" fill="#000"/>
<path d="M122.50,260.70 L124.50,264.30 L120.50,264.30 Z" fill="#000"/>
<path d="M127.30,268.40 L129.30,272.00 L125.30,272.00 Z" fill="#000"/>
<path d="M137.20,280.50 L139.20,284.10 L135.20,284.10 Z" fill="#000"/>
<path d="M143.30,268.90 L145.30,272.50 L141.30,272.50 Z" fill="#000"/>
<path d="M149.40,275.80 L151.40,279.40 L147.40,279.40 Z" fill="#000"/>
<path d="M158.00,278.00 L160.00,281.60 L156.00,281.60 Z" fill="#000"/>
<path d="M164.50,276.70 L166.50,280.30 L162.50,280.30 Z" fill="#000"/>
<path d="M173.10,275.40 L175.10,279.00 L171.10,279.00 Z" fill="#000"/>
<path d="M182.20,281.00 L184.20,284.60 L180.20,284.60 Z" fill="#000"/>
<path d="M188.60,283.30 L190.60,286.90 L186.60,286.90 Z" fill="#000"/>
<path d="M194.60,289.80 L196.60,293.40 L192.60,293.40 Z" fill="#000"/>
<path d="M203.20,300.40 L205.20,304.00 L201.20,304.00 Z" fill="#000"/>
<path d="M209.80,313.50 L211.80,317.10 L207.80,317.10 Z" fill="#000"/>
<path d="M40.30,243.60 L52.70,254.40 L58.30,254.40 L64.80,247.70 L73.50,243.60 L78.90,250.60 L85.80,257.50 L94.90,251.40 L101.00,248.40 L107.00,245.80 L116.10,249.70 L122.10,245.60 L128.20,248.20 L137.20,246.50 L143.30,245.10 L149.40,248.20 L158.40,252.30 L164.50,258.80 L173.10,258.30 L182.20,262.10 L188.90,287.80 L194.10,300.40 L203.70,307.00" fill="none" stroke="#000" stroke-width="1.3" stroke-dasharray="2.6,1.3,1,1.3" stroke-linejoin="miter"/>
<rect x="38.60" y="241.90" width="3.40" height="3.40" fill="#000"/>
<rect x="51.00" y="252.70" width="3.40" height="3.40" fill="#000"/>
<rect x="56.60" y="252.70" width="3.40" height="3.40" fill="#000"/>
<rect x="63.10" y="246.00" width="3.40" height="3.40" fill="#000"/>
<rect x="71.80" y="241.90" width="3.40" height="3.40" fill="#000"/>
<rect x="77.20" y="248.90" width="3.40" height="3.40" fill="#000"/>
<rect x="84.10" y="255.80" width="3.40" height="3.40" fill="#000"/>
<rect x="93.20" y="249.70" width="3.40" height="3.40" fill="#000"/>
<rect x="99.30" y="246.70" width="3.40" height="3.40" fill="#000"/>
<rect x="105.30" y="244.10" width="3.40" height="3.40" fill="#000"/>
<rect x="114.40" y="248.00" width="3.40" height="3.40" fill="#000"/>
<rect x="120.40" y="243.90" width="3.40" height="3.40" fill="#000"/>
<rect x="126.50" y="246.50" width="3.40" height="3.40" fill="#000"/>
<rect x="135.50" y="244.80" width="3.40" height="3.40" fill="#000"/>
<rect x="141.60" y="243.40" width="3.40" height="3.40" fill="#000"/>
<rect x="147.70" y="246.50" width="3.40" height="3.40" fill="#000"/>
<rect x="156.70" y="250.60" width="3.40" height="3.40" fill="#000"/>
<rect x="162.80" y="257.10" width="3.40" height="3.40" fill="#000"/>
<rect x="171.40" y="256.60" width="3.40" height="3.40" fill="#000"/>
<rect x="180.50" y="260.40" width="3.40" height="3.40" fill="#000"/>
<rect x="187.20" y="286.10" width="3.40" height="3.40" fill="#000"/>
<rect x="192.40" y="298.70" width="3.40" height="3.40" fill="#000"/>
<rect x="202.00" y="305.30" width="3.40" height="3.40" fill="#000"/>
<path d="M40.30,243.60 L52.40,249.40 L58.50,250.00 L64.80,244.50 L73.80,238.70 L79.80,258.80 L85.40,267.40 L94.90,277.40 L101.00,265.70 L107.00,270.50 L114.80,257.10 L122.10,254.40 L128.20,278.70 L137.20,251.00 L143.30,254.00 L149.40,260.50 L158.40,253.00 L164.50,259.00 L173.10,263.50 L182.20,263.60 L188.60,281.20 L194.60,307.00" fill="none" stroke="#000" stroke-width="1.3" stroke-dasharray="2.6,1.6" stroke-linejoin="miter"/>
<circle cx="40.30" cy="243.60" r="1.70" fill="#000"/>
<circle cx="52.40" cy="249.40" r="1.70" fill="#000"/>
<circle cx="58.50" cy="250.00" r="1.70" fill="#000"/>
<circle cx="64.80" cy="244.50" r="1.70" fill="#000"/>
<circle cx="73.80" cy="238.70" r="1.70" fill="#000"/>
<circle cx="79.80" cy="258.80" r="1.70" fill="#000"/>
<circle cx="85.40" cy="267.40" r="1.70" fill="#000"/>
<circle cx="94.90" cy="277.40" r="1.70" fill="#000"/>
<circle cx="101.00" cy="265.70" r="1.70" fill="#000"/>
<circle cx="107.00" cy="270.50" r="1.70" fill="#000"/>
<circle cx="114.80" cy="257.10" r="1.70" fill="#000"/>
<circle cx="122.10" cy="254.40" r="1.70" fill="#000"/>
<circle cx="128.20" cy="278.70" r="1.70" fill="#000"/>
<circle cx="137.20" cy="251.00" r="1.70" fill="#000"/>
<circle cx="143.30" cy="254.00" r="1.70" fill="#000"/>
<circle cx="149.40" cy="260.50" r="1.70" fill="#000"/>
<circle cx="158.40" cy="253.00" r="1.70" fill="#000"/>
<circle cx="164.50" cy="259.00" r="1.70" fill="#000"/>
<circle cx="173.10" cy="263.50" r="1.70" fill="#000"/>
<circle cx="182.20" cy="263.60" r="1.70" fill="#000"/>
<circle cx="188.60" cy="281.20" r="1.70" fill="#000"/>
<circle cx="194.60" cy="307.00" r="1.70" fill="#000"/>
<path d="M80.10,216.60 L80.10,212.10 L105.10,212.10 L105.10,216.60" fill="none" stroke="#000" stroke-width="1.2" stroke-linejoin="miter"/>
<line x1="92.30" y1="212.10" x2="92.30" y2="206.50" stroke="#000" stroke-width="1.2"/>
<circle cx="92.30" cy="201.90" r="1.15" fill="#000"/>
<text x="161.90" y="196.90" font-size="7.65" text-anchor="start">PBMC only</text>
<text x="161.90" y="208.60" font-size="7.65" text-anchor="start">PBMC+ tTreg (untreated)</text>
<text x="161.90" y="220.20" font-size="7.65" text-anchor="start">PBMC+ tTreg (scramble)</text>
<text x="161.90" y="231.30" font-size="7.65" text-anchor="start">PBMC+ tTreg (antagomir)</text>
<path d="M149.30,194.50 L160.30,194.50" fill="none" stroke="#000" stroke-width="1.3" stroke-dasharray="1.6,1.2" stroke-linejoin="miter"/>
<circle cx="154.80" cy="194.50" r="1.70" fill="#000"/>
<path d="M149.30,206.20 L160.30,206.20" fill="none" stroke="#000" stroke-width="1.3" stroke-dasharray="2,1" stroke-linejoin="miter"/>
<circle cx="154.80" cy="206.20" r="2.21" fill="#000"/>
<path d="M149.30,217.80 L160.30,217.80" fill="none" stroke="#000" stroke-width="1.3" stroke-dasharray="1.2,1.2" stroke-linejoin="miter"/>
<circle cx="154.80" cy="217.80" r="1.70" fill="#000"/>
<line x1="149.30" y1="228.90" x2="160.30" y2="228.90" stroke="#000" stroke-width="1.6"/>
<path d="M154.80,230.30 L156.20,227.78 L153.40,227.78 Z" fill="#000"/>
<rect x="0.5" y="0.5" width="519" height="693" fill="none" stroke="#000" stroke-width="1"/>
</svg>
</body></html>
